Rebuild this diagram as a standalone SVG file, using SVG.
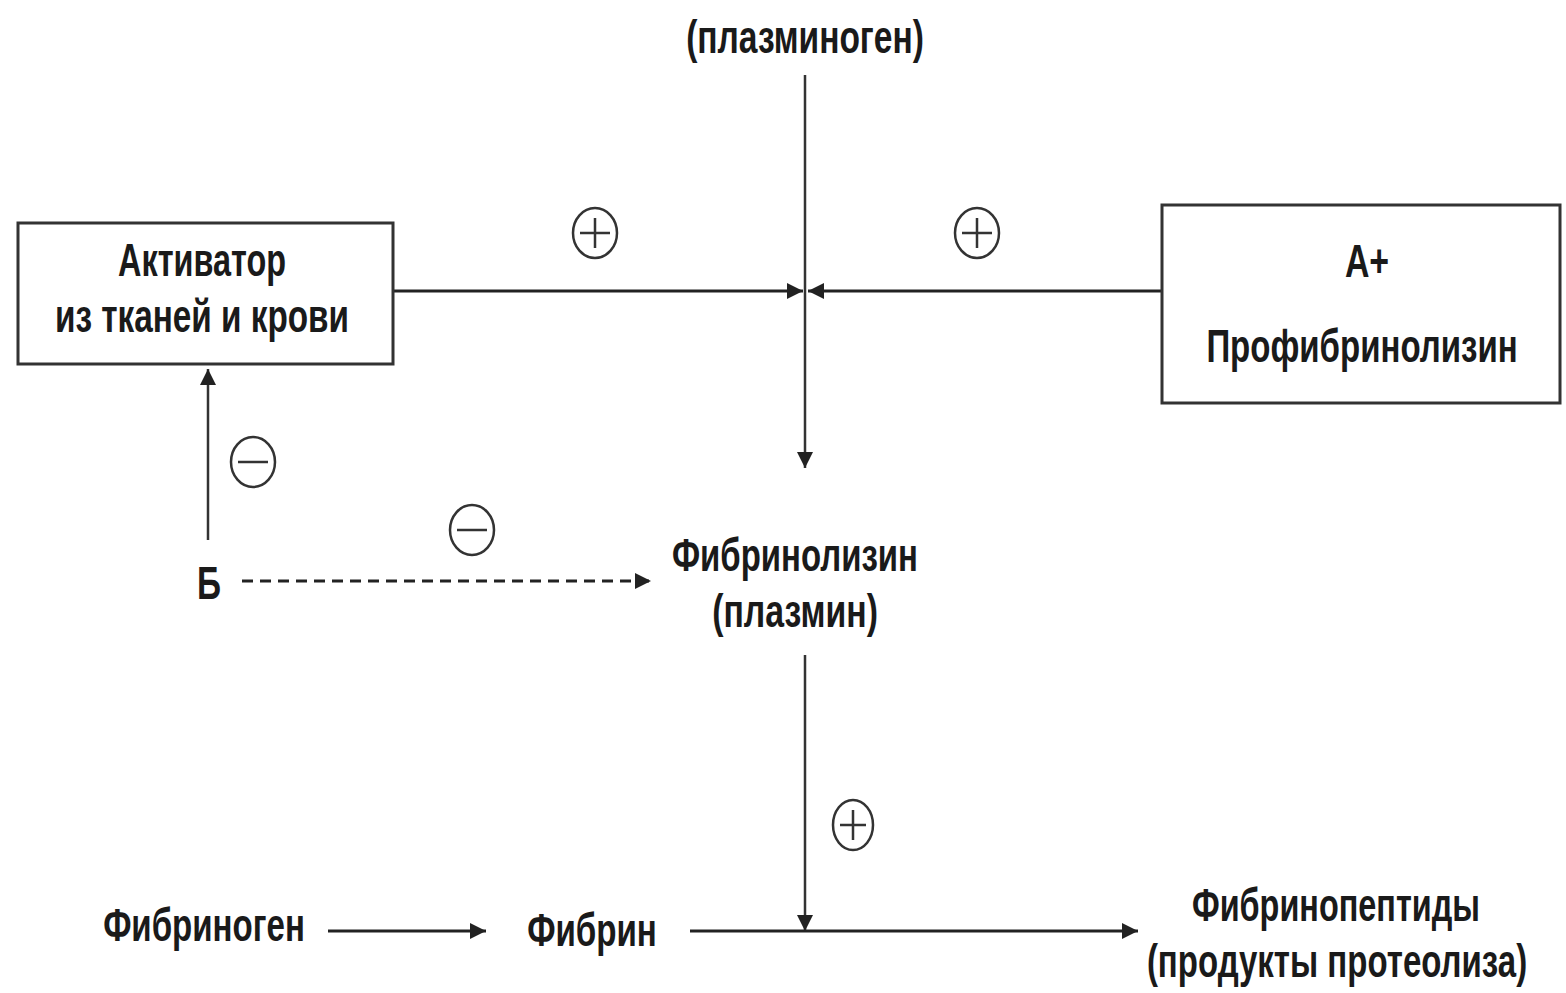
<svg xmlns="http://www.w3.org/2000/svg" width="1566" height="993" viewBox="0 0 1566 993">
<defs>
<style>
.t{font-family:"Liberation Sans","DejaVu Sans",sans-serif;font-size:47px;fill:#1a1a1a;text-anchor:middle;font-weight:bold}
.box{fill:#fff;stroke:#333;stroke-width:3}
.ln{stroke:#222;stroke-width:3;fill:none}
.thin{stroke:#333;stroke-width:2.5;fill:none}
.sg{fill:none;stroke:#333;stroke-width:2.5}
</style>
<marker id="ah" viewBox="0 0 10 10" refX="10" refY="5" markerWidth="16" markerHeight="16" markerUnits="userSpaceOnUse" orient="auto"><path d="M0,0 L10,5 L0,10 z" fill="#222"/></marker>
</defs>
<rect width="1566" height="993" fill="#fff"/>
<g id="connectors">
<line class="thin" x1="805" y1="75" x2="805" y2="468" marker-end="url(#ah)"/>
<line class="ln" x1="393" y1="291" x2="803" y2="291" marker-end="url(#ah)"/>
<line class="ln" x1="1162" y1="291" x2="808" y2="291" marker-end="url(#ah)"/>
<line class="thin" x1="208" y1="540" x2="208" y2="369" marker-end="url(#ah)"/>
<line class="ln" x1="242" y1="581" x2="651" y2="581" stroke-dasharray="11,7" marker-end="url(#ah)"/>
<line class="thin" x1="805" y1="655" x2="805" y2="931" marker-end="url(#ah)"/>
<line class="ln" x1="328" y1="931" x2="486" y2="931" marker-end="url(#ah)"/>
<line class="ln" x1="690" y1="931" x2="1138" y2="931" marker-end="url(#ah)"/>
</g>
<g id="signs">
<g id="plus1"><ellipse class="sg" cx="595" cy="233" rx="22" ry="25"/><path class="sg" d="M580,233 H610 M595,218 V248"/></g>
<g id="plus2"><ellipse class="sg" cx="977" cy="233" rx="22" ry="25"/><path class="sg" d="M962,233 H992 M977,218 V248"/></g>
<g id="plus3"><ellipse class="sg" cx="853" cy="825" rx="20" ry="25"/><path class="sg" d="M840,825 H866 M853,810 V840"/></g>
<g id="minus1"><ellipse class="sg" cx="253" cy="462" rx="22" ry="25"/><path class="sg" d="M238,462 H268"/></g>
<g id="minus2"><ellipse class="sg" cx="472" cy="530" rx="22" ry="25"/><path class="sg" d="M457,530 H487"/></g>
</g>
<g id="n-plasminogen"><text class="t" transform="translate(805,53) scale(0.75,1)" textLength="317" lengthAdjust="spacingAndGlyphs">(плазминоген)</text></g>
<g id="n-activator">
<rect class="box" x="18" y="223" width="375" height="141"/>
<text class="t" transform="translate(202,276) scale(0.75,1)" textLength="224" lengthAdjust="spacingAndGlyphs">Активатор</text>
<text class="t" transform="translate(202,332) scale(0.75,1)" textLength="392" lengthAdjust="spacingAndGlyphs">из тканей и крови</text>
</g>
<g id="n-profibrinolysin">
<rect class="box" x="1162" y="205" width="398" height="198"/>
<text class="t" transform="translate(1367,277) scale(0.75,1)" textLength="59" lengthAdjust="spacingAndGlyphs">А+</text>
<text class="t" transform="translate(1362,362) scale(0.75,1)" textLength="415" lengthAdjust="spacingAndGlyphs">Профибринолизин</text>
</g>
<g id="n-b"><text class="t" transform="translate(209,599) scale(0.75,1)" textLength="32" lengthAdjust="spacingAndGlyphs">Б</text></g>
<g id="n-fibrinolysin">
<text class="t" transform="translate(795,571) scale(0.75,1)" textLength="328" lengthAdjust="spacingAndGlyphs">Фибринолизин</text>
<text class="t" transform="translate(795,627) scale(0.75,1)" textLength="221" lengthAdjust="spacingAndGlyphs">(плазмин)</text>
</g>
<g id="n-fibrinogen"><text class="t" transform="translate(204,941) scale(0.75,1)" textLength="269" lengthAdjust="spacingAndGlyphs">Фибриноген</text></g>
<g id="n-fibrin"><text class="t" transform="translate(592,946) scale(0.75,1)" textLength="173" lengthAdjust="spacingAndGlyphs">Фибрин</text></g>
<g id="n-fibrinopeptides">
<text class="t" transform="translate(1336,921) scale(0.75,1)" textLength="384" lengthAdjust="spacingAndGlyphs">Фибринопептиды</text>
<text class="t" transform="translate(1337,977) scale(0.75,1)" textLength="507" lengthAdjust="spacingAndGlyphs">(продукты протеолиза)</text>
</g>
</svg>
